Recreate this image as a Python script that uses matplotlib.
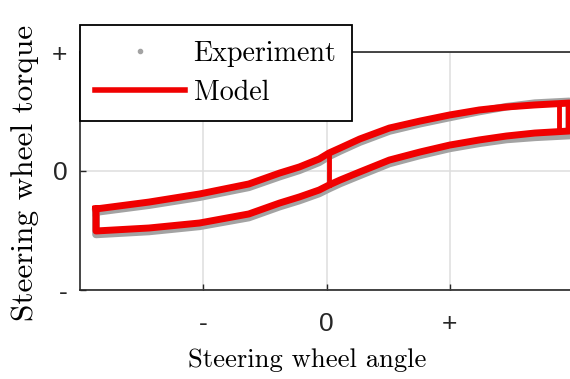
import matplotlib
matplotlib.use("Agg")
import matplotlib.pyplot as plt
from matplotlib.lines import Line2D
import numpy as np

# Steering wheel angle samples (normalised units) along the loop
angle = [-1.87, -1.44, -1.03, -0.63, -0.38, -0.22, -0.06, 0.02, 0.11,
         0.27, 0.51, 0.76, 1.00, 1.24, 1.46, 1.69, 1.97]

# Model torque: loading branch (upper) and unloading branch (lower)
model_upper = [-0.319, -0.261, -0.193, -0.109, -0.017, 0.034, 0.101, 0.151,
               0.193, 0.269, 0.361, 0.420, 0.471, 0.513, 0.538, 0.555, 0.571]
model_lower = [-0.504, -0.479, -0.437, -0.361, -0.269, -0.218, -0.160, -0.118,
               -0.076, -0.008, 0.092, 0.160, 0.218, 0.261, 0.294, 0.319, 0.336]

# Torque steps of the model at zero angle and near the right turning point
step_angle = [0.02, 1.89]
step_low = [-0.118, 0.345]
step_high = [0.151, 0.560]

# Measured torque (dense samples drawn as a band)
exp_upper = [-0.345, -0.287, -0.220, -0.137, -0.047, 0.006, 0.073, 0.123,
             0.168, 0.243, 0.336, 0.398, 0.450, 0.500, 0.540, 0.570, 0.585]
exp_lower = [-0.533, -0.508, -0.465, -0.391, -0.299, -0.248, -0.189, -0.148,
             -0.105, -0.037, 0.063, 0.132, 0.190, 0.233, 0.265, 0.283, 0.298]

tick_pos = [-1, 0, 1]
tick_text = ["-", "0", "+"]

RED = "#f00000"
GRAY = "#a3a3a3"
INK = "#262626"

fig = plt.figure(figsize=(5.70, 3.79), dpi=100)
ax = fig.add_axes([80 / 570, 89 / 379, 493 / 570, 238 / 379])

a = np.array(angle)
ex_x = np.concatenate([a, a[::-1], a[:1]])
ex_y = np.concatenate([exp_upper, exp_lower[::-1], exp_upper[:1]])
ax.plot(ex_x, ex_y, color=GRAY, lw=5.5, solid_joinstyle="round", zorder=2)

mx = np.concatenate([a, a[::-1], a[:1]])
my = np.concatenate([model_upper, model_lower[::-1], model_upper[:1]])
ax.plot(mx, my, color=RED, lw=5.0, solid_joinstyle="round", zorder=3)
for xs, lo, hi in zip(step_angle, step_low, step_high):
    ax.plot([xs, xs], [lo, hi], color=RED, lw=3.5, zorder=3)

ax.set_xlim(-2, 2)
ax.set_ylim(-1, 1)
ax.set_xticks(tick_pos)
ax.set_xticklabels(tick_text)
ax.set_yticks(tick_pos)
ax.set_yticklabels(tick_text)
ax.grid(True, color="#dedede", lw=1.1)
ax.set_axisbelow(True)
ax.tick_params(direction="in", length=4, width=1.0, color=INK,
               labelsize=19, labelcolor=INK)
ax.tick_params(axis="x", pad=16)
ax.tick_params(axis="y", pad=9)
for lab in ax.get_xticklabels() + ax.get_yticklabels():
    lab.set_fontfamily("Liberation Sans")
for s in ax.spines.values():
    s.set_color(INK)
    s.set_linewidth(1.2)

ax.set_xlabel("Steering wheel angle", fontfamily="cmr10", fontsize=19.2)
ax.xaxis.set_label_coords(0.46, -0.245)
ax.set_ylabel("Steering wheel torque", fontfamily="cmr10", fontsize=22.5)
ax.yaxis.set_label_coords(-0.083, 0.49)

handles = [Line2D([], [], ls="none", marker="o", ms=3, color=GRAY),
           Line2D([], [], color=RED, lw=4.0)]
leg = ax.legend(handles, ["Experiment", "Model"], loc="upper left",
                bbox_to_anchor=(0.0, 1.113), borderaxespad=0,
                prop={"family": "cmr10", "size": 20.2}, fancybox=False,
                framealpha=1, edgecolor="black", handlelength=3.2,
                handletextpad=0.3, labelspacing=0.45, borderpad=0.55)
leg.get_frame().set_linewidth(1.3)
leg.set_clip_on(False)

fig.savefig("out.png", dpi=100)
